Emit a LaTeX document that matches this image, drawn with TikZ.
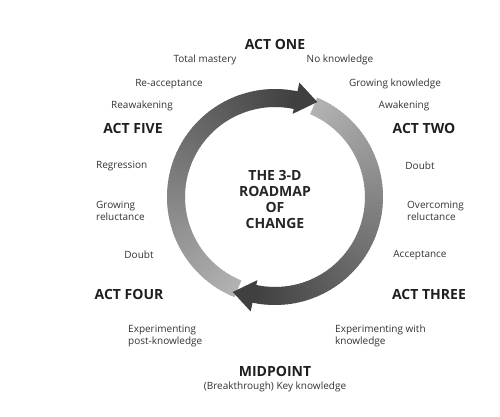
\documentclass[tikz,border=0pt]{standalone}
\usepackage{fontspec}
\setmainfont{Open Sans}
\usepackage{tikz}
\usetikzlibrary{arrows}
\tikzstyle{stage} = [inner sep=0pt, text=black!80, font=\fontsize{10}{12}\selectfont, align=left]
\tikzstyle{act} = [inner sep=0pt, text=black!88, font=\fontsize{14}{16}\selectfont\bfseries]
\tikzstyle{hub} = [inner sep=0pt, text=black!85, align=center, font=\fontsize{14}{16}\selectfont\bfseries]
\tikzstyle{ring} = [shift={(275,219)}]

\begin{document}
\begin{tikzpicture}[x=1pt, y=1pt, node distance=16pt]
\fill[white] (0,0) rectangle (500,416);
\useasboundingbox (0,0) rectangle (500,416);
% left arc, light at the tail, dark at the head
\foreach \i in {0,...,84} {
  \pgfmathsetmacro{\a}{248-2*\i}
  \pgfmathsetmacro{\b}{\a-2.5}
  \pgfmathsetmacro{\p}{30+45*\i/84}
  \fill[black!\p, ring] (\a:108) arc[start angle=\a, end angle=\b, radius=108] -- (\b:90) arc[start angle=\b, end angle=\a, radius=90] -- cycle;
}
% right arc
\foreach \i in {0,...,84} {
  \pgfmathsetmacro{\a}{67-2*\i}
  \pgfmathsetmacro{\b}{\a-2.5}
  \pgfmathsetmacro{\p}{30+45*\i/84}
  \fill[black!\p, ring] (\a:108) arc[start angle=\a, end angle=\b, radius=108] -- (\b:90) arc[start angle=\b, end angle=\a, radius=90] -- cycle;
}
\fill[black!75, ring] (78:85) -- (66:104) -- (78:117) -- cycle;
\fill[black!75, ring] (258:85) -- (246:104) -- (258:117) -- cycle;

\node (hub) [hub] at (275,217) {THE 3-D\\ROADMAP\\OF\\CHANGE};

\node (actone) [act] at (275,372) {ACT ONE};
\node (mastery) [stage] at (205,356) {Total mastery};
\node (noknow) [stage] at (340,356) {No knowledge};
\node (reaccept) [stage] at (169,332) {Re-acceptance};
\node (growknow) [stage] at (395,332) {Growing knowledge};
\node (reawake) [stage] at (142,310) {Reawakening};
\node (awake) [stage] at (404,310) {Awakening};

\node (actfive) [act] at (133,288) {ACT FIVE};
\node (acttwo) [act] at (424,288) {ACT TWO};
\node (regress) [stage, anchor=west] at (96,250) {Regression};
\node (doubtr) [stage] at (420,250) {Doubt};
\node (growrel) [stage, anchor=west] at (96,205) {Growing\\reluctance};
\node (overrel) [stage, anchor=west] at (407,205) {Overcoming\\reluctance};
\node (doubtl) [stage] at (139,161) {Doubt};
\node (accept) [stage] at (420,161) {Acceptance};

\node (actfour) [act] at (129,122) {ACT FOUR};
\node (actthree) [act] at (429,122) {ACT THREE};
\node (exppost) [stage, anchor=west] at (128,80) {Experimenting\\post-knowledge};
\node (expwith) [stage, anchor=west] at (335,80) {Experimenting with\\knowledge};

\node (midpoint) [act] at (275,45) {MIDPOINT};
\node (keyknow) [stage, below of = midpoint] {(Breakthrough) Key knowledge};
\end{tikzpicture}
\end{document}
